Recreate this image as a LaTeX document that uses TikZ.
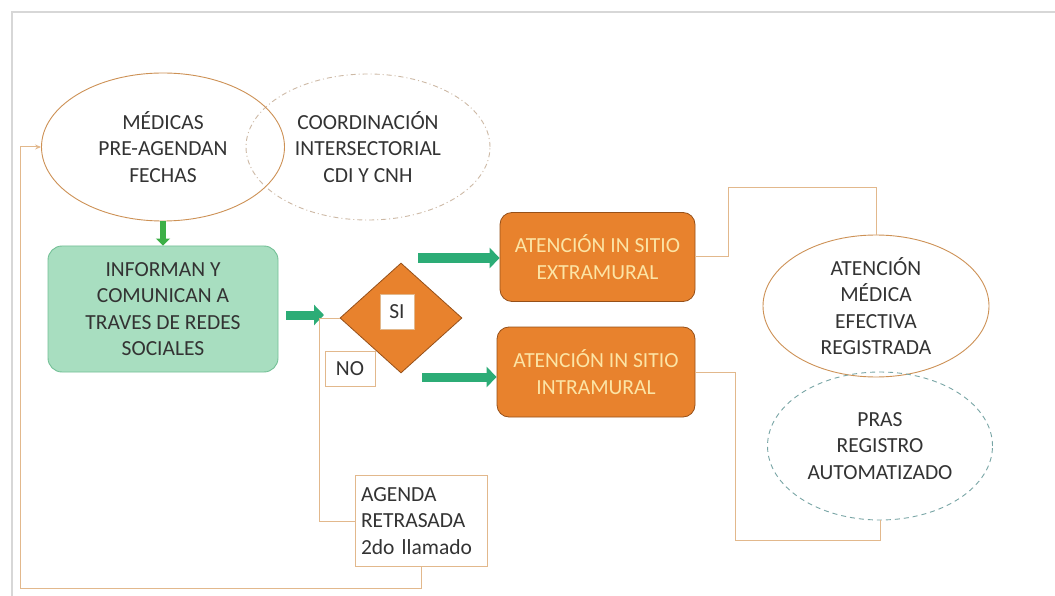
\documentclass[tikz,border=0pt]{standalone}
\usepackage{fontspec}
\setmainfont{Carlito}
\usetikzlibrary{shapes.geometric,arrows.meta}
\definecolor{lineor}{RGB}{226,184,140}
\definecolor{ellor}{RGB}{205,145,85}
\definecolor{orfill}{RGB}{232,130,45}
\definecolor{ordraw}{RGB}{150,80,25}
\definecolor{ortext}{RGB}{252,228,165}
\definecolor{grfill}{RGB}{168,222,192}
\definecolor{grdraw}{RGB}{115,192,150}
\definecolor{grarrow}{RGB}{44,172,118}
\definecolor{grdown}{RGB}{60,175,70}
\definecolor{teal}{RGB}{120,165,165}
\definecolor{dashgray}{RGB}{205,185,165}
\definecolor{frame}{RGB}{215,215,215}
\tikzset{
  txt/.style={font=\fontsize{21.5}{26.5}\selectfont, text=black!80, align=center},
  ell/.style={ellipse, draw=ellor, line width=0.9pt, inner sep=0pt},
  orbox/.style={rectangle, rounded corners=12pt, fill=orfill, draw=ordraw, line width=0.8pt},
  conn/.style={draw=lineor, line width=1pt},
  grarr/.style={draw=grarrow, line width=9pt, -{Triangle[length=10pt,width=20pt]}},
  labbox/.style={rectangle, draw=lineor, line width=0.9pt, fill=white, inner sep=0pt},
}
\begin{document}
\begin{tikzpicture}[x=1pt,y=-1pt]
\useasboundingbox (0,0) rectangle (1055,596);
\fill[white] (0,0) rectangle (1055,596);
\draw[frame, line width=1.2pt] (1055,12) -- (12,12) -- (12,596);

% ellipses top-left
\node[ellipse, draw=dashgray, line width=0.9pt, dash pattern=on 5pt off 3pt on 1pt off 3pt, minimum width=244pt, minimum height=146pt, txt] (coord) at (368,147) {COORDINACIÓN\\INTERSECTORIAL\\CDI Y CNH};
\node[ell, minimum width=243pt, minimum height=148pt, txt] (medicas) at (163,147) {MÉDICAS\\PRE-AGENDAN\\FECHAS};

% green box
\node[rectangle, rounded corners=14pt, fill=grfill, draw=grdraw, line width=0.9pt, minimum width=230pt, minimum height=126pt, txt] (informan) at (163,309) {INFORMAN Y\\COMUNICAN A\\TRAVES DE REDES\\SOCIALES};
\draw[draw=grdown, line width=6pt, -{Triangle[length=7pt,width=14pt]}] (medicas.south) -- (informan.north);

% diamond
\node[diamond, fill=orfill, draw=ordraw, line width=0.8pt, minimum width=122pt, minimum height=110pt, inner sep=0pt] (dec) at (401,318) {};
\node[labbox, minimum width=34pt, minimum height=35pt, txt] (si) at (397,312) {SI};
\node[labbox, minimum width=50pt, minimum height=35pt, txt] (no) at (350,369) {NO};

% green arrow into junction
\coordinate (junc) at (319,318);
\coordinate (gs) at (286,315);
\coordinate (ge) at (324,315);
\draw[grarr] (gs) -- (ge);

% orange boxes
\node[orbox, minimum width=195pt, minimum height=89pt, txt, text=ortext] (extra) at (597.5,257) {ATENCIÓN IN SITIO\\EXTRAMURAL};
\node[orbox, minimum width=198pt, minimum height=90pt, txt, text=ortext] (intra) at (596,372) {ATENCIÓN IN SITIO\\INTRAMURAL};

\coordinate (a1s) at (418,258);
\coordinate (a2s) at (422,377);
\draw[grarr] (a1s) -- (extra.west |- a1s);
\draw[grarr] (a2s) -- (intra.west |- a2s);

% right ellipses
\node[ell, minimum width=226pt, minimum height=142pt, txt] (atencion) at (876,306) {ATENCIÓN\\MÉDICA\\EFECTIVA\\REGISTRADA};
\node[ellipse, draw=teal, line width=0.9pt, dash pattern=on 5pt off 4pt, minimum width=225pt, minimum height=148pt, txt] (pras) at (880,446) {PRAS\\REGISTRO\\AUTOMATIZADO};

% agenda box
\node[labbox, minimum width=132pt, minimum height=91pt, align=left, font=\fontsize{21.5}{26.5}\selectfont, text=black!80, text width=120pt] (agenda) at (421,521) {AGENDA\\RETRASADA\\2do llamado};

% connectors
\draw[conn] (junc) -- (dec.west);
\draw[conn] (junc) |- (agenda.west);
\coordinate (lb) at (20,588);
\draw[conn, -{Stealth[length=6pt,width=5pt]}] (agenda.south) |- (lb) |- (medicas.west);
\coordinate (c1) at (728,188);
\draw[conn] (extra.east) -| (c1) -| (atencion.north);
\coordinate (c2) at (735,540);
\draw[conn] (intra.east) -| (c2) -| (pras.south);
\end{tikzpicture}
\end{document}
